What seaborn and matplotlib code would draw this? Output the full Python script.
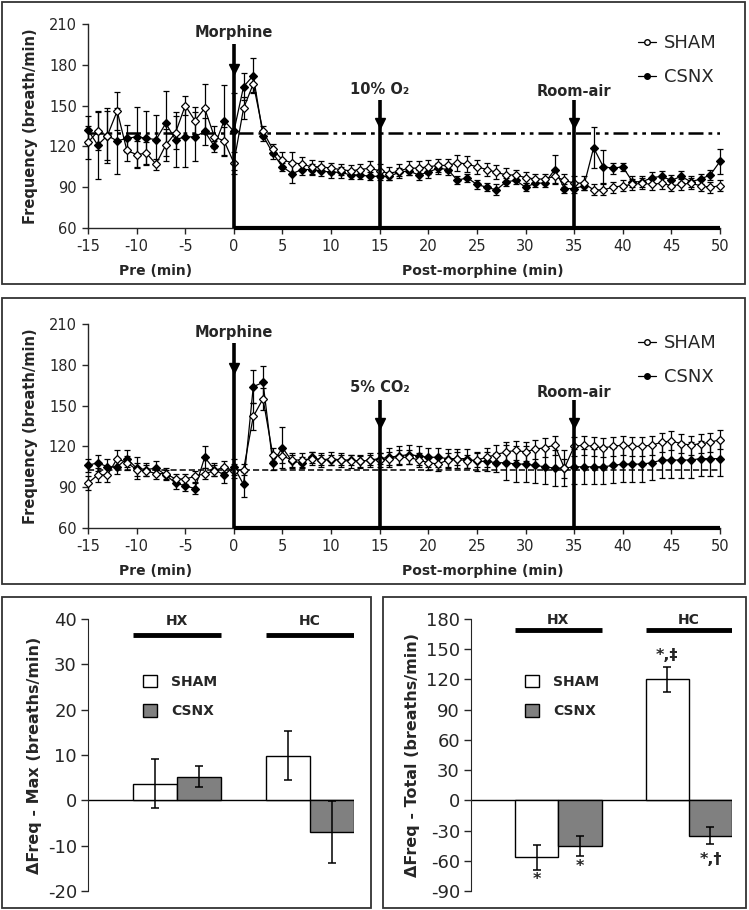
import matplotlib
matplotlib.use("Agg")
import matplotlib.pyplot as plt
import seaborn as sns
import pandas as pd
import numpy as np
from matplotlib.patches import Rectangle, Patch
from matplotlib.lines import Line2D

minutes = list(range(-15, 51))

# hypoxia (10% O2) protocol
hx_sham = [123, 131, 128, 146, 117, 114, 115, 107, 121, 130, 150, 139, 148, 127, 124,
           108, 148, 166, 131, 118, 110, 108,
           107, 105, 105, 104, 103, 102, 103, 104, 102, 100, 102, 104, 104, 105, 106, 106, 108, 107,
           105, 103, 101, 99, 99, 97, 96, 96, 98, 95, 93, 93, 88, 88, 90, 91, 92, 93, 92, 93,
           91, 92, 93, 91, 90, 91]
hx_sham_err = [12, 14, 18, 14, 8, 10, 8, 4, 12, 12, 7, 10, 18, 8, 10,
               8, 8, 6, 4, 4, 6, 8,
               5, 5, 4, 4, 4, 4, 4, 5, 5, 5, 5, 5, 5, 5, 5, 5, 6, 6, 5, 5, 5, 5, 4, 4, 4, 4,
               5, 5, 5, 5, 4, 4, 4, 4, 4, 4, 4, 4, 4, 4, 4, 4, 4, 4]
hx_csnx = [132, 121, 128, 124, 126, 127, 126, 125, 137, 125, 127, 127, 131, 120, 139,
           131, 164, 172, 128, 115, 105, 100,
           103, 103, 102, 101, 101, 99, 99, 98, 98, 98, 101, 102, 99, 101, 104, 103, 95, 97,
           92, 90, 88, 94, 95, 90, 93, 93, 103, 89, 89, 91, 119, 105, 104, 105, 94, 94, 97, 98,
           95, 98, 94, 96, 99, 109]
hx_csnx_err = [10, 25, 20, 24, 10, 22, 20, 18, 24, 20, 22, 18, 10, 4, 26,
               28, 10, 13, 4, 4, 3, 7,
               4, 4, 4, 4, 4, 3, 3, 3, 3, 3, 3, 3, 4, 4, 4, 4, 3, 3, 3, 3, 4, 3, 3, 3, 3, 3,
               11, 3, 3, 3, 15, 12, 4, 3, 4, 4, 4, 4, 4, 4, 4, 4, 4, 9]

# hypercapnia (5% CO2) protocol
hc_sham = [93, 99, 99, 111, 108, 103, 102, 100, 100, 96, 96, 98, 100, 102, 105,
           102, 103, 142, 155, 114, 113, 110,
           110, 111, 110, 111, 110, 109, 109, 110, 110, 111, 112, 112, 110, 108, 107, 110, 111, 109,
           110, 112, 114, 116, 117, 116, 118, 119, 121, 104, 120, 121, 120, 119, 120, 121, 120, 120,
           121, 123, 124, 122, 121, 122, 123, 125]
hc_sham_err = [5, 5, 5, 6, 5, 5, 4, 4, 4, 4, 4, 4, 4, 4, 4,
               5, 4, 10, 8, 5, 5, 5] + [5] * 19 + [7] * 25
hc_csnx = [106, 108, 105, 105, 111, 104, 103, 104, 99, 93, 91, 89, 112, 103, 99,
           105, 92, 164, 167, 108, 119, 109,
           108, 112, 110, 110, 110, 110, 109, 110, 111, 112, 113, 114, 113, 112, 112, 111, 111, 111,
           109, 109, 108, 108, 107, 107, 106, 105, 104, 104, 105, 105, 105, 105, 106, 107, 107, 107,
           108, 110, 110, 110, 110, 111, 111, 111]
hc_csnx_err = [5, 6, 6, 5, 6, 8, 5, 5, 4, 4, 4, 4, 8, 5, 6,
               6, 9, 12, 12, 5, 15, 5] + [4] * 9 + [7] * 12 + [13] * 23

hx_baseline = 130
hc_baseline = 103

# bar panels
conditions = ["HX", "HX", "HC", "HC"]
groups = ["SHAM", "CSNX", "SHAM", "CSNX"]
max_vals = [3.7, 5.2, 9.8, -7.0]
max_err = [5.5, 2.3, 5.4, 6.8]
total_vals = [-56.5, -45.5, 120.0, -35.0]
total_err = [12.5, 10.0, 12.5, 8.5]
total_marks = ["*", "*", "*,\u2021", "*,\u2020"]

sns.set_style("ticks")
plt.rcParams["font.family"] = ["DejaVu Sans"]
plt.rcParams["axes.unicode_minus"] = False

W, H = 749, 910
fig = plt.figure(figsize=(W / 100, H / 100), dpi=100)


def fbox(x0, y0, x1, y1):
    return [x0 / W, 1 - y1 / H, (x1 - x0) / W, (y1 - y0) / H]


# panel frames
for x0, y0, x1, y1 in [(2, 2, 745, 284), (2, 298, 745, 584), (2, 597, 371, 908), (383, 597, 746, 908)]:
    fig.patches.append(Rectangle((x0 / W, 1 - y1 / H), (x1 - x0) / W, (y1 - y0) / H,
                                 transform=fig.transFigure, fill=False, edgecolor="#333333", lw=1.3))


def trace(ax, df, y, err, face):
    sns.lineplot(data=df, x="minute", y=y, ax=ax, color="black", lw=0.9, marker="D", markersize=4.3,
                 markerfacecolor=face, markeredgecolor="black", markeredgewidth=0.9,
                 errorbar=None, clip_on=False, zorder=4)
    ax.errorbar(df["minute"], df[y], yerr=df[err], fmt="none", ecolor="black", elinewidth=0.9,
                capsize=2.5, capthick=0.9, clip_on=False, zorder=3)


def time_panel(ax, sham, sham_e, csnx, csnx_e, base, base_style, base_lw, events):
    df = pd.DataFrame({"minute": minutes, "sham": sham, "sham_e": sham_e,
                       "csnx": csnx, "csnx_e": csnx_e})
    ax.hlines(base, -15, 50, colors="black", linestyles=base_style, lw=base_lw, zorder=2)
    for t, lab, top, head, ty in events:
        ax.vlines(t, 60, top, colors="black", lw=2.6, zorder=5, clip_on=False)
        ax.plot(t, head, marker="v", ms=7, color="black", zorder=6)
        ax.text(t, ty, lab, ha="center", va="center", fontsize=10.5, fontweight="bold")
    ax.hlines(60, 0, 50, colors="black", lw=3, clip_on=False, zorder=5)
    trace(ax, df, "csnx", "csnx_e", "black")
    trace(ax, df, "sham", "sham_e", "white")
    ax.set_xlim(-15, 50)
    ax.set_ylim(60, 210)
    ax.set_xticks(range(-15, 51, 5))
    ax.set_yticks(range(60, 211, 30))
    ax.tick_params(labelsize=10.5, length=4, width=1, pad=4)
    sns.despine(ax=ax)
    for s in ["left", "bottom"]:
        ax.spines[s].set_linewidth(1)
    ax.set_xlabel("")
    ax.set_ylabel("Frequency (breath/min)", fontsize=10.5, fontweight="bold", labelpad=8)
    ax.text(-8, -0.21, "Pre (min)", transform=ax.get_xaxis_transform(), ha="center", va="center",
            fontsize=10, fontweight="bold")
    ax.text(25.6, -0.21, "Post-morphine (min)", transform=ax.get_xaxis_transform(), ha="center",
            va="center", fontsize=10, fontweight="bold")
    handles = [Line2D([], [], color="black", lw=0.9, marker="o", ms=4, mfc="white", mec="black"),
               Line2D([], [], color="black", lw=0.9, marker="o", ms=4, mfc="black", mec="black")]
    ax.legend(handles, ["SHAM", "CSNX"], loc="upper right", bbox_to_anchor=(1.02, 1.03), frameon=False,
              fontsize=13, handlelength=1.0, handletextpad=0.4, labelspacing=0.9)


ax1 = fig.add_axes(fbox(88, 24, 720, 228))
time_panel(ax1, hx_sham, hx_sham_err, hx_csnx, hx_csnx_err, hx_baseline,
           (0, (6, 2, 1.5, 2, 1.5, 2)), 1.8,
           [(0, "Morphine", 195, 177, 204), (15, "10% O\u2082", 154, 137, 161.5),
            (35, "Room-air", 154, 137, 160)])

ax2 = fig.add_axes(fbox(88, 324, 720, 528))
time_panel(ax2, hc_sham, hc_sham_err, hc_csnx, hc_csnx_err, hc_baseline,
           (0, (4, 2)), 1.1,
           [(0, "Morphine", 196, 178, 204), (15, "5% CO\u2082", 154, 137, 163),
            (35, "Room-air", 154, 137, 160)])


def bar_panel(ax, vals, errs, ylim, step, ylabel, line_y, lab_y, marks=None, mark_y=None):
    df = pd.DataFrame({"cond": conditions, "group": groups, "val": vals, "err": errs})
    sns.barplot(data=df, x="cond", y="val", hue="group", palette={"SHAM": "white", "CSNX": "#808080"},
                edgecolor="black", linewidth=1, width=0.66, errorbar=None, legend=False, ax=ax, zorder=3)
    bar_conts = list(ax.containers)
    for cont, lev in zip(bar_conts, ["SHAM", "CSNX"]):
        sub = df[df["group"] == lev]
        xs = [b.get_x() + b.get_width() / 2 for b in cont]
        ax.errorbar(xs, sub["val"], yerr=sub["err"], fmt="none", ecolor="black", elinewidth=1.1,
                    capsize=3, capthick=1.1, zorder=4)
        if marks:
            for x, i in zip(xs, sub.index):
                ax.text(x, mark_y[i], marks[i], ha="center", va="center", fontsize=11.5, fontweight="bold")
    ax.axhline(0, color="black", lw=1, zorder=2)
    for i, c in enumerate(["HX", "HC"]):
        ax.hlines(line_y, i - 0.33, i + 0.33, colors="black", lw=3.5)
        ax.text(i, lab_y, c, ha="center", va="center", fontsize=10, fontweight="bold")
    ax.set_xlim(-0.67, 1.33)
    ax.set_ylim(*ylim)
    ax.set_yticks(np.arange(ylim[0], ylim[1] + 1, step))
    ax.set_xticks([])
    ax.set_xlabel("")
    ax.set_ylabel(ylabel, fontsize=11.5, fontweight="bold", labelpad=4)
    ax.tick_params(axis="y", labelsize=13, length=5, width=1, pad=3)
    sns.despine(ax=ax, bottom=True)
    handles = [Patch(facecolor="white", edgecolor="black"), Patch(facecolor="#808080", edgecolor="black")]
    ax.legend(handles, ["SHAM", "CSNX"], loc="upper left", bbox_to_anchor=(0.16, 0.84), frameon=False,
              prop={"weight": "bold", "size": 10}, handlelength=1.0, handleheight=1.0,
              handletextpad=1.0, labelspacing=1.1)


ax3 = fig.add_axes(fbox(88, 619, 354, 891))
bar_panel(ax3, max_vals, max_err, (-20, 40), 10, "\u0394Freq - Max (breaths/min)", 36.4, 39.5)

ax4 = fig.add_axes(fbox(471, 619, 732, 891))
bar_panel(ax4, total_vals, total_err, (-90, 180), 30, "\u0394Freq - Total (breaths/min)", 168.7, 179,
          marks=total_marks, mark_y=[-79, -66, 144, -59])

plt.savefig("out.png", dpi=100)
